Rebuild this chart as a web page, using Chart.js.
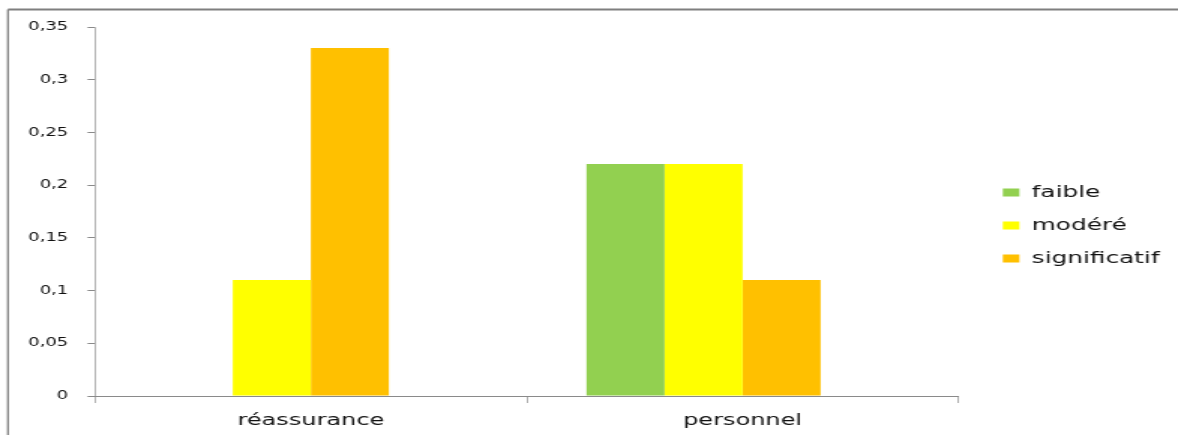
<!DOCTYPE html>
<html lang="fr">
<head>
<meta charset="utf-8">
<title>Niveaux par catégorie</title>
<script src="https://cdn.jsdelivr.net/npm/chart.js@4.4.1/dist/chart.umd.min.js"></script>
<style>
  html, body { margin: 0; padding: 0; background: #ffffff; overflow: hidden; }
  /* the drawing is laid out on a narrower canvas and widened on screen */
  #wrap { width: 785px; height: 435px; transform: scaleX(1.5006); transform-origin: 0 0; }
  #chart { display: block; }
</style>
</head>
<body>
<div id="wrap"><canvas id="chart" width="785" height="435"></canvas></div>
<script>
// categories and series (the fourth series is empty: it keeps its slot in each group)
const categories = ['réassurance', 'personnel'];
const faible = [0, 0.22];
const modere = [0.11, 0.22];
const significatif = [0.33, 0.11];
const serieVide = [null, null];
const seriesNames = ['faible', 'modéré', 'significatif', ''];
const seriesColors = ['#92D050', '#FFFF00', '#FFC000', '#FFFFFF'];

// y axis
const yMin = 0;
const yMax = 0.35;
const yStep = 0.05;
const yTickLabels = ['0', '0,05', '0,1', '0,15', '0,2', '0,25', '0,3', '0,35'];

const axisGrey = '#8a8a8a';
const FONT = "'DejaVu Sans', sans-serif";

// gray frame around the whole figure (top and left edges visible)
const outerFrame = {
  id: 'outerFrame',
  beforeDraw(chart, args, opts) {
    const ctx = chart.ctx;
    ctx.save();
    ctx.strokeStyle = opts.color;
    ctx.lineWidth = 2;
    ctx.beginPath();
    ctx.moveTo(opts.left, opts.top);
    ctx.lineTo(chart.width, opts.top);
    ctx.stroke();
    ctx.lineWidth = 1.3;
    ctx.beginPath();
    ctx.moveTo(opts.left, opts.top);
    ctx.lineTo(opts.left, chart.height);
    ctx.stroke();
    ctx.restore();
  }
};

// fixed legend column width, and a small offset of the legend block
const legendPlacement = {
  id: 'legendPlacement',
  beforeInit(chart, args, opts) {
    const legend = chart.legend;
    const fit = legend.fit;
    legend.fit = function () {
      fit.call(this);
      this.width = opts.width;
    };
  },
  afterLayout(chart, args, opts) {
    const lg = chart.legend;
    lg.left += opts.dx; lg.right += opts.dx;
    lg.top += opts.dy; lg.bottom += opts.dy;
  }
};

const datasets = [faible, modere, significatif, serieVide].map((values, i) => ({
  label: seriesNames[i],
  data: values,
  backgroundColor: seriesColors[i],
  borderWidth: 0,
  categoryPercentage: 0.723,
  barPercentage: 1.0
}));

new Chart(document.getElementById('chart'), {
  type: 'bar',
  data: { labels: categories, datasets },
  plugins: [outerFrame, legendPlacement],
  options: {
    responsive: false,
    devicePixelRatio: 1,
    animation: false,
    layout: { padding: { left: 0, top: 27, right: 0, bottom: 0 } },
    plugins: {
      tooltip: { enabled: false },
      outerFrame: { color: '#7f7f7f', left: 5.3, top: 9.5 },
      legendPlacement: { width: 146.3, dx: 13.1, dy: -5.5 },
      legend: {
        position: 'right',
        align: 'center',
        labels: {
          font: { family: FONT, size: 16.5 },
          color: '#111111',
          boxWidth: 11,
          boxHeight: 8,
          padding: 16.5,
          filter: (item) => item.text !== ''
        }
      }
    },
    scales: {
      x: {
        grid: {
          drawOnChartArea: false,
          drawTicks: true,
          tickLength: 7,
          tickWidth: 0.67,
          tickColor: axisGrey
        },
        border: { color: axisGrey, width: 1 },
        ticks: {
          font: { family: FONT, size: 16 },
          color: '#111111',
          padding: 8
        },
        afterFit(scale) {
          scale.height = 39;
          scale.paddingLeft = 0;
          scale.paddingRight = 0;
        }
      },
      y: {
        min: yMin,
        max: yMax,
        grid: {
          drawOnChartArea: false,
          drawTicks: true,
          tickLength: 5,
          tickWidth: 1,
          tickColor: axisGrey
        },
        border: { color: axisGrey, width: 0.67 },
        ticks: {
          stepSize: yStep,
          font: { family: FONT, size: 12 },
          color: '#111111',
          padding: 12.8,
          callback: (value, index) => yTickLabels[index]
        },
        afterFit(scale) {
          scale.width = 63.3;
          scale.paddingTop = 0;
          scale.paddingBottom = 0;
        }
      }
    }
  }
});
</script>
</body>
</html>
